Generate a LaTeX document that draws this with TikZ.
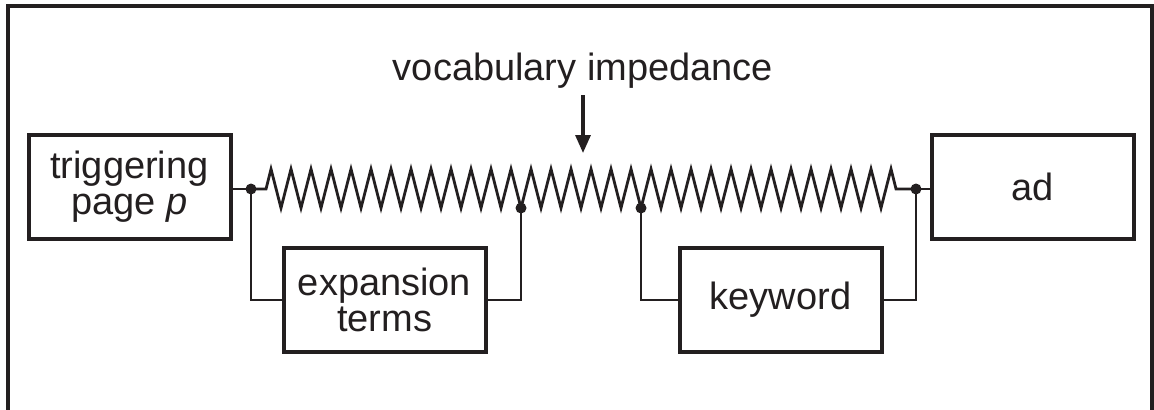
\documentclass[tikz,border=0pt]{standalone}
\usepackage{fontspec}
\setmainfont{Liberation Sans}
\usetikzlibrary{arrows.meta}
\definecolor{ink}{HTML}{231F20}
\begin{document}
\begin{tikzpicture}[x=0.5pt,y=-0.5pt,
  every node/.style={text=ink,font=\fontsize{19}{18}\selectfont},
  box/.style={draw=ink,line width=2pt,minimum width=101pt,minimum height=52pt,inner sep=0pt,align=center},
  wire/.style={draw=ink,line width=1.4pt},
  link/.style={draw=ink,line width=1.2pt},
  junc/.style={fill=ink,circle,inner sep=0pt,minimum size=5.5pt},
  frame/.style={draw=ink,line width=1.6pt}]
\useasboundingbox (0,0) rectangle (1154,409);
\draw[frame] (8,420) -- (8,6) -- (1152,6) -- (1152,420);
% boxes
\node[box] (trig) at (129.5,187) {triggering\\page \textit{p}};
\node[box] (exp) at (384.5,300) {expansion\\terms};
\node[box] (kw) at (780.5,300) {keyword};
\node[box] (ad) at (1032.5,186.5) {ad};
% label
\node[anchor=base] (lab) at (583,80) {vocabulary impedance};
\coordinate (at) at (583,95);
\coordinate (ah) at (583,153);
\draw[draw=ink,line width=1.6pt,-{Triangle[length=9pt,width=7.5pt,fill=ink]}] (at) -- (ah);
% junctions
\coordinate (j1) at (251,189);
\coordinate (j2) at (521,208);
\coordinate (j3) at (641,208);
\coordinate (j4) at (916,189);
% resistor zigzag
\draw[wire] (j1) -- (266,189)
  \foreach \k in {0,...,30}{ -- ({271+20*\k},169) -- ({281+20*\k},208)}
  -- (891,169) -- (896,189) -- (j4);
% connectors
\draw[link] (trig.east |- j1) -- (j1);
\draw[link] (j1) |- (exp.west);
\draw[link] (exp.east) -| (j2);
\draw[link] (kw.west) -| (j3);
\draw[link] (kw.east) -| (j4);
\draw[link] (j4) -- (ad.west |- j4);
\node[junc] at (j1) {};
\node[junc] at (j2) {};
\node[junc] at (j3) {};
\node[junc] at (j4) {};
\end{tikzpicture}
\end{document}
